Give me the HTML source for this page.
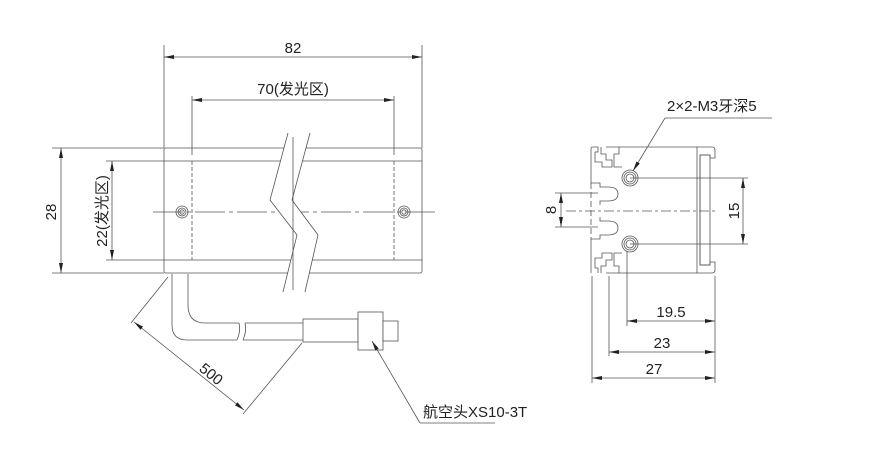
<!DOCTYPE html>
<html><head><meta charset="utf-8"><style>
body{margin:0;background:#fff}
svg{display:block}
text{font-family:"Liberation Sans","Noto Sans CJK SC",sans-serif;fill:#222}
</style></head><body>
<svg width="896" height="462" viewBox="0 0 896 462" xmlns="http://www.w3.org/2000/svg">
<defs>
<marker id="a" viewBox="0 0 10 4" refX="10" refY="2" markerWidth="10" markerHeight="4" orient="auto-start-reverse" markerUnits="userSpaceOnUse"><path d="M0,0 L10,2 L0,4 z" fill="#222"/></marker>
</defs>
<g stroke="#555" stroke-width="0.8" fill="none">
<rect x="164" y="148" width="258" height="125" rx="2" fill="#fff"/>
<line x1="164" y1="161" x2="422" y2="161"/>
<line x1="164" y1="260" x2="422" y2="260"/>
<line x1="192" y1="161" x2="192" y2="260" stroke-dasharray="4,2"/>
<line x1="394" y1="161" x2="394" y2="260" stroke-dasharray="4,2"/>
<line x1="153" y1="212" x2="435" y2="212" stroke-dasharray="30,4,4,4"/>
<circle cx="182" cy="212" r="6"/><circle cx="182" cy="212" r="4"/><circle cx="182" cy="212" r="2.2"/>
<circle cx="404" cy="212" r="6"/><circle cx="404" cy="212" r="4"/><circle cx="404" cy="212" r="2.2"/>
<polygon points="288,133 270,200 297,235 283,292 305,292 318,235 292,200 310,133" fill="#fff" stroke="none"/>
<polyline points="288,133 270,200 297,235 283,292"/>
<polyline points="310,133 292,200 318,235 305,292"/>
<line x1="293" y1="137" x2="293" y2="290"/>
<line x1="164" y1="45" x2="164" y2="148"/>
<line x1="422" y1="45" x2="422" y2="148"/>
<line x1="164" y1="57" x2="422" y2="57" marker-start="url(#a)" marker-end="url(#a)"/>
<line x1="192" y1="96" x2="192" y2="155"/>
<line x1="394" y1="96" x2="394" y2="155"/>
<line x1="192" y1="100" x2="394" y2="100" marker-start="url(#a)" marker-end="url(#a)"/>
<line x1="52" y1="148" x2="164" y2="148"/>
<line x1="52" y1="273" x2="164" y2="273"/>
<line x1="61" y1="148" x2="61" y2="273" marker-start="url(#a)" marker-end="url(#a)"/>
<line x1="106" y1="161" x2="164" y2="161"/>
<line x1="106" y1="260" x2="164" y2="260"/>
<line x1="112" y1="161" x2="112" y2="260" marker-start="url(#a)" marker-end="url(#a)"/>
<path d="M172,274 V325 Q172,340 187,340 H237"/>
<path d="M188,274 V305 Q188,323 205,323 H239"/>
<path d="M237,340 q4,-9 2,-17"/>
<path d="M243,340 q4,-9 2,-17"/>
<line x1="243" y1="340" x2="303" y2="340"/>
<line x1="245" y1="323" x2="303" y2="323"/>
<rect x="303" y="319" width="55" height="23" fill="#fff"/>
<rect x="358" y="312" width="25" height="38" fill="#fff"/>
<rect x="383" y="321" width="15" height="20" fill="#fff"/>
<line x1="168" y1="277" x2="131" y2="323"/>
<line x1="302" y1="343" x2="243" y2="414"/>
<line x1="134" y1="322" x2="244" y2="410" marker-start="url(#a)" marker-end="url(#a)"/>
<line x1="420" y1="423" x2="372" y2="341" marker-end="url(#a)"/>
<line x1="420" y1="423" x2="495" y2="423"/>
<!-- side view profile -->
<path d="M591,149 Q591,147 593,147 H598 V152 H595 V162 H602 V167 H612 V160 H606 V154 H601 V147"/>
<path d="M606,147 H619 V154 H614 V167 H622"/>
<path d="M591,149 V183 H600 V187 H608 Q618,187 618,194 Q618,201 608,201 H600 V205"/>
<path d="M591,273 V239 H600 V235 H608 Q618,235 618,228 Q618,221 608,221 H600 V217"/>
<path d="M598,273 V268 H595 V258 H602 V253 H612 V260 H606 V266 H601 V273"/>
<path d="M606,273 H619 V266 H614 V253 H622"/>
<line x1="591" y1="183" x2="591" y2="239" stroke-dasharray="6,3"/>
<path d="M619,147 H697 V273 H619"/>
<path d="M697,147 H712 Q715,147 715,150 V158 H710 V155 H700 V265 H710 V262 H715 V270 Q715,273 712,273 H697"/>
<rect x="700" y="155" width="10" height="110"/>
<circle cx="630" cy="178" r="8"/><circle cx="630" cy="178" r="6"/><circle cx="630" cy="178" r="4"/>
<circle cx="630" cy="244" r="8"/><circle cx="630" cy="244" r="6"/><circle cx="630" cy="244" r="4"/>
<line x1="566" y1="211" x2="715" y2="211" stroke-dasharray="10,3,3,3"/>
<line x1="630" y1="178" x2="748" y2="178"/>
<line x1="630" y1="244" x2="748" y2="244"/>
<line x1="743" y1="178" x2="743" y2="244" marker-start="url(#a)" marker-end="url(#a)"/>
<line x1="555" y1="193" x2="598" y2="193"/>
<line x1="555" y1="227" x2="598" y2="227"/>
<line x1="561" y1="193" x2="561" y2="227" marker-start="url(#a)" marker-end="url(#a)"/>
<line x1="592" y1="276" x2="592" y2="383"/>
<line x1="609" y1="276" x2="609" y2="356"/>
<line x1="627" y1="252" x2="627" y2="326"/>
<line x1="715" y1="276" x2="715" y2="383"/>
<line x1="627" y1="321" x2="715" y2="321" marker-start="url(#a)" marker-end="url(#a)"/>
<line x1="609" y1="352" x2="715" y2="352" marker-start="url(#a)" marker-end="url(#a)"/>
<line x1="592" y1="378" x2="715" y2="378" marker-start="url(#a)" marker-end="url(#a)"/>
<line x1="665" y1="118" x2="772" y2="118"/>
<line x1="665" y1="118" x2="633" y2="171" marker-end="url(#a)"/>
</g>
<text x="293" y="53" font-size="15" text-anchor="middle">82</text>
<text x="293" y="94" font-size="15" text-anchor="middle">70(发光区)</text>
<text x="56" y="212" font-size="15" text-anchor="middle" transform="rotate(-90 56 212)">28</text>
<text x="107" y="211" font-size="15" text-anchor="middle" transform="rotate(-90 107 211)">22(发光区)</text>
<text x="208" y="378" font-size="15" text-anchor="middle" transform="rotate(39 208 378)">500</text>
<text x="423" y="417" font-size="15">航空头XS10-3T</text>
<text x="667" y="111" font-size="15">2×2-M3牙深5</text>
<text x="739" y="211" font-size="15" text-anchor="middle" transform="rotate(-90 739 211)">15</text>
<text x="556" y="210" font-size="15" text-anchor="middle" transform="rotate(-90 556 210)">8</text>
<text x="671" y="317" font-size="15" text-anchor="middle">19.5</text>
<text x="662" y="348" font-size="15" text-anchor="middle">23</text>
<text x="654" y="374" font-size="15" text-anchor="middle">27</text>
</svg>
</body></html>
